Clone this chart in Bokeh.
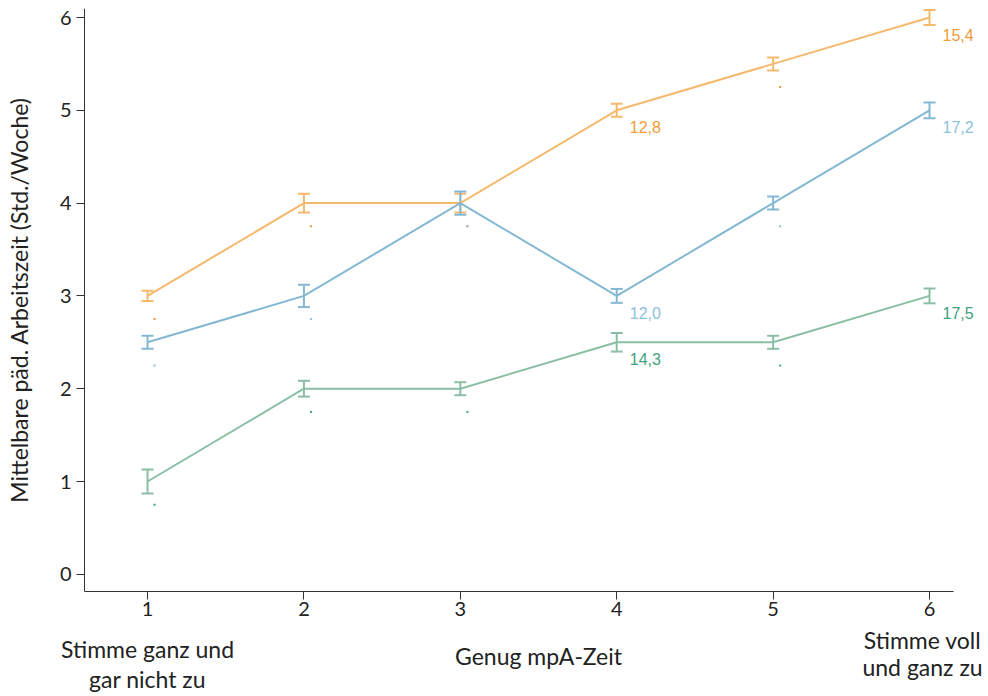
from bokeh.plotting import figure
from bokeh.models import (ColumnDataSource, Range1d, FixedTicker, Whisker, TeeHead)
from bokeh.transform import dodge
from bokeh.core.properties import value
from bokeh.embed import file_html
from bokeh.resources import INLINE

# ---- data ----
x_vals = [1, 2, 3, 4, 5, 6]
orange_mean = [3.0, 4.0, 4.0, 5.0, 5.5, 6.0]
orange_err = [0.055, 0.10, 0.10, 0.07, 0.07, 0.08]
blue_mean = [2.5, 3.0, 4.0, 3.0, 4.0, 5.0]
blue_err = [0.07, 0.12, 0.125, 0.075, 0.07, 0.085]
green_mean = [1.0, 2.0, 2.0, 2.5, 2.5, 3.0]
green_err = [0.13, 0.085, 0.07, 0.10, 0.07, 0.08]

label_x = [4, 6]
orange_labels = ["12,8", "15,4"]
blue_labels = ["12,0", "17,2"]
green_labels = ["14,3", "17,5"]
dot_x = [1, 2, 3, 5]   # points carrying a tiny dot marker instead of a value label

y_ticks = [0, 1, 2, 3, 4, 5, 6]
x_ticks = [1, 2, 3, 4, 5, 6]
x_title = "Genug mpA-Zeit"
y_title = "Mittelbare päd. Arbeitszeit (Std./Woche)"
left_anchor = ["Stimme ganz und", "gar nicht zu"]
right_anchor = ["Stimme voll", "und ganz zu"]

FONT = "Lato"
TXT = "#222222"
# visible axis extents
XA0, XA1 = 0.597, 6.153
YA0, YA1 = -0.183, 6.097
PX_X = 156.4
PX_Y = 92.8
W, H = 986, 694
LEFT, TOP = 84, 8
X_START = XA0 - LEFT / PX_X
X_END = XA0 + (W - LEFT) / PX_X
Y_START = YA1 - (H - TOP) / PX_Y

series = [
    (orange_mean, orange_err, orange_labels, "#F5B96E", "#F09A38"),
    (blue_mean, blue_err, blue_labels, "#84B8D2", "#8CC2DC"),
    (green_mean, green_err, green_labels, "#8ABFA6", "#3FA27D"),
]

p = figure(width=W, height=H, output_backend="svg", toolbar_location=None,
           x_range=Range1d(X_START, X_END), y_range=Range1d(Y_START, YA1),
           min_border_left=0, min_border_right=0, min_border_top=TOP, min_border_bottom=0)
p.outline_line_color = None
p.grid.grid_line_color = None
p.background_fill_color = "white"
p.border_fill_color = "white"

for ax in (p.xaxis[0], p.yaxis[0]):
    ax.axis_line_color = "#333333"
    ax.axis_line_width = 1
    ax.major_tick_line_color = "#333333"
    ax.major_tick_in = 0
    ax.major_tick_out = 8
    ax.minor_tick_line_color = None
    ax.major_label_text_font = FONT
    ax.major_label_text_font_size = "20px"
    ax.major_label_text_color = TXT

p.xaxis.ticker = FixedTicker(ticks=x_ticks)
p.yaxis.ticker = FixedTicker(ticks=y_ticks)
p.xaxis.fixed_location = YA0
p.yaxis.fixed_location = XA0
p.xaxis.bounds = (XA0, XA1)
p.yaxis.bounds = (YA0, YA1)
p.xaxis.major_label_standoff = 3
p.yaxis.major_label_standoff = 5
p.yaxis.axis_label = y_title
p.yaxis.axis_label_text_font = FONT
p.yaxis.axis_label_text_font_size = "23px"
p.yaxis.axis_label_text_font_style = "normal"
p.yaxis.axis_label_text_color = TXT
p.yaxis.axis_label_standoff = 24

for mean, err, labs, lc, tc in series:
    src = ColumnDataSource(dict(
        x=x_vals, y=mean,
        lo=[m - e for m, e in zip(mean, err)],
        hi=[m + e for m, e in zip(mean, err)]))
    p.line("x", "y", source=src, line_color=lc, line_width=2)
    w = Whisker(base="x", upper="hi", lower="lo", source=src, dimension="height",
                line_color=lc, line_width=2,
                upper_head=TeeHead(size=12, line_color=lc, line_width=2),
                lower_head=TeeHead(size=12, line_color=lc, line_width=2))
    p.add_layout(w)
    # tiny dots below the unlabelled points
    dsrc = ColumnDataSource(dict(x=dot_x, y=[mean[x_vals.index(v)] for v in dot_x]))
    p.scatter(dodge("x", 0.045, range=p.x_range), dodge("y", -0.25, range=p.y_range),
              source=dsrc, marker="square", size=2, fill_color=tc, line_color=None)
    lsrc = ColumnDataSource(dict(x=label_x, y=[mean[x_vals.index(v)] for v in label_x], t=labs))
    p.text("x", "y", text="t", source=lsrc, x_offset=13, y_offset=17,
           text_font=value("Liberation Sans"), text_font_size="16px",
           text_color=tc, text_align="left", text_baseline="middle")

# category anchor texts and x title below the axis
bx = [3.5, 1, 1, 6, 6]
bdown = [65, 58, 88, 49, 76]
btext = [x_title, left_anchor[0], left_anchor[1], right_anchor[0], right_anchor[1]]
bxoff = [0, 0, 0, -7, -7]
bsrc = ColumnDataSource(dict(x=bx, y=[YA0 - d / PX_Y for d in bdown], t=btext, xo=bxoff))
p.text("x", "y", text="t", source=bsrc, x_offset="xo",
       text_font=value(FONT), text_font_size="23px", text_color=TXT,
       text_align="center", text_baseline="middle")

open("out.html", "w").write(file_html(p, INLINE))
